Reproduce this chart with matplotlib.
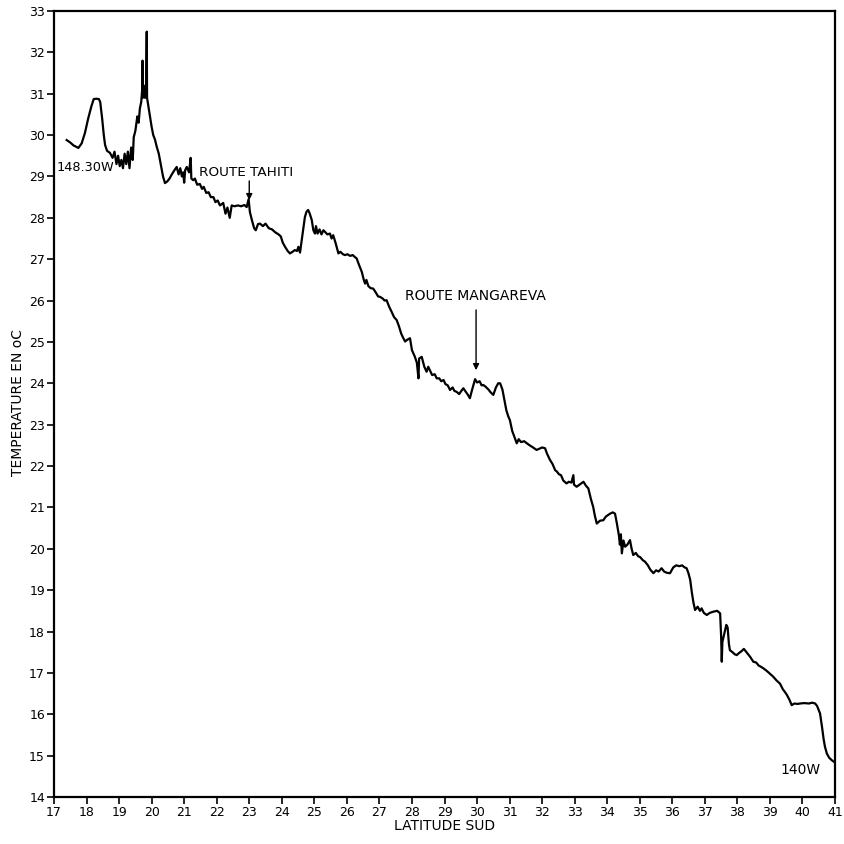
import matplotlib
matplotlib.use("Agg")
import matplotlib.pyplot as plt

# surface temperature along the track, latitude south (deg) vs temperature (deg C)
lat = [17.39, 17.5, 17.6, 17.75, 17.85, 17.95, 18.05, 18.15, 18.22, 18.3, 18.38, 18.42,
       18.48, 18.53, 18.57, 18.63, 18.72, 18.8, 18.86, 18.92, 18.97, 19.02, 19.07, 19.12,
       19.17, 19.22, 19.27, 19.32, 19.37, 19.42, 19.45, 19.5, 19.56, 19.6, 19.64, 19.68,
       19.71, 19.72, 19.73, 19.76, 19.8, 19.83, 19.85, 19.86, 19.9, 19.95, 20.0, 20.05,
       20.1, 20.16, 20.22, 20.28, 20.35, 20.41, 20.48, 20.55, 20.62, 20.7, 20.77, 20.83,
       20.88, 20.93, 20.97, 21.0, 21.03, 21.08, 21.15, 21.2, 21.22, 21.28, 21.33, 21.4,
       21.48, 21.55, 21.6, 21.68, 21.75, 21.82, 21.9, 21.96, 22.03, 22.1, 22.2, 22.27,
       22.33, 22.4, 22.46, 22.55, 22.65, 22.75, 22.85, 22.92, 22.98, 23.02, 23.08, 23.15,
       23.2, 23.27, 23.33, 23.42, 23.5, 23.6, 23.7, 23.8, 23.9, 23.97, 24.03, 24.1,
       24.18, 24.25, 24.33, 24.4, 24.47, 24.51, 24.56, 24.62, 24.67, 24.71, 24.76, 24.81,
       24.86, 24.92, 24.97, 25.02, 25.05, 25.1, 25.16, 25.22, 25.28, 25.33, 25.4, 25.48,
       25.53, 25.58, 25.65, 25.7, 25.74, 25.8, 25.88, 25.94, 26.02, 26.1, 26.18, 26.25,
       26.3, 26.38, 26.46, 26.52, 26.56, 26.6, 26.66, 26.73, 26.81, 26.9, 26.96, 27.02,
       27.1, 27.16, 27.22, 27.3, 27.38, 27.45, 27.53, 27.6, 27.67, 27.73, 27.79, 27.85,
       27.94, 28.0, 28.09, 28.15, 28.2, 28.22, 28.3, 28.38, 28.45, 28.5, 28.56, 28.62,
       28.7, 28.76, 28.84, 28.9, 28.97, 29.03, 29.1, 29.17, 29.25, 29.3, 29.38, 29.45,
       29.52, 29.58, 29.65, 29.72, 29.78, 29.85, 29.94, 30.0, 30.08, 30.14, 30.19, 30.26,
       30.35, 30.42, 30.5, 30.58, 30.65, 30.71, 30.78, 30.84, 30.9, 30.96, 31.01, 31.08,
       31.15, 31.22, 31.28, 31.35, 31.45, 31.53, 31.62, 31.72, 31.83, 31.92, 32.0, 32.09,
       32.15, 32.24, 32.32, 32.4, 32.45, 32.52, 32.58, 32.65, 32.75, 32.82, 32.9, 32.96,
       32.98, 33.06, 33.15, 33.27, 33.35, 33.42, 33.5, 33.57, 33.62, 33.68, 33.78, 33.88,
       33.96, 34.09, 34.17, 34.24, 34.3, 34.36, 34.39, 34.42, 34.45, 34.5, 34.55, 34.62,
       34.7, 34.75, 34.8, 34.88, 34.95, 35.01, 35.1, 35.16, 35.25, 35.32, 35.42, 35.5,
       35.58, 35.67, 35.75, 35.83, 35.93, 36.03, 36.12, 36.22, 36.3, 36.38, 36.44, 36.5,
       36.55, 36.6, 36.65, 36.7, 36.78, 36.85, 36.9, 36.97, 37.06, 37.15, 37.26, 37.38,
       37.47, 37.5, 37.52, 37.54, 37.6, 37.66, 37.7, 37.74, 37.77, 37.85, 37.92, 37.98,
       38.05, 38.12, 38.2, 38.3, 38.4, 38.49, 38.58, 38.65, 38.72, 38.8, 38.9, 39.0,
       39.1, 39.2, 39.31, 39.4, 39.45, 39.52, 39.6, 39.67, 39.75, 39.85, 39.93, 40.05,
       40.2, 40.3, 40.39, 40.45, 40.54, 40.6, 40.65, 40.69, 40.75, 40.82, 40.9, 40.97]
temp = [29.88, 29.82, 29.75, 29.69, 29.8, 30.05, 30.4, 30.7, 30.87, 30.88, 30.87, 30.8,
        30.4, 30.0, 29.76, 29.62, 29.57, 29.45, 29.6, 29.3, 29.5, 29.25, 29.4, 29.2,
        29.55, 29.3, 29.6, 29.2, 29.7, 29.4, 29.95, 30.1, 30.45, 30.3, 30.65, 30.8,
        31.1, 31.8, 30.9, 31.2, 30.9, 31.1, 32.5, 30.9, 30.7, 30.44, 30.2, 30.0,
        29.9, 29.71, 29.55, 29.3, 29.0, 28.84, 28.88, 28.95, 29.05, 29.15, 29.23, 29.05,
        29.2, 29.0, 29.1, 28.85, 29.15, 29.23, 29.1, 29.45, 28.95, 28.91, 28.95, 28.8,
        28.82, 28.7, 28.75, 28.6, 28.62, 28.5, 28.5, 28.38, 28.42, 28.3, 28.36, 28.1,
        28.25, 28.0, 28.3, 28.28, 28.3, 28.28, 28.31, 28.26, 28.45, 28.14, 27.95, 27.75,
        27.7, 27.85, 27.86, 27.8, 27.86, 27.75, 27.72, 27.65, 27.6, 27.55, 27.4, 27.3,
        27.2, 27.14, 27.18, 27.22, 27.2, 27.3, 27.16, 27.5, 27.8, 28.02, 28.15, 28.19,
        28.1, 27.95, 27.7, 27.62, 27.8, 27.62, 27.72, 27.6, 27.7, 27.66, 27.6, 27.62,
        27.5, 27.58, 27.4, 27.25, 27.14, 27.18, 27.12, 27.1, 27.12, 27.08, 27.1, 27.05,
        27.02, 26.85, 26.69, 26.5, 26.41, 26.5, 26.35, 26.3, 26.29, 26.18, 26.1, 26.09,
        26.05, 26.0, 26.01, 25.85, 25.72, 25.6, 25.53, 25.38, 25.2, 25.1, 25.01, 25.05,
        25.09, 24.8, 24.64, 24.5, 24.12, 24.6, 24.64, 24.4, 24.28, 24.4, 24.3, 24.2,
        24.22, 24.12, 24.12, 24.05, 24.08, 23.98, 23.95, 23.84, 23.9, 23.82, 23.79, 23.74,
        23.82, 23.88, 23.8, 23.72, 23.64, 23.85, 24.1, 24.02, 24.05, 23.95, 23.96, 23.92,
        23.85, 23.78, 23.72, 23.9, 24.0, 24.0, 23.85, 23.6, 23.35, 23.2, 23.11, 22.85,
        22.7, 22.55, 22.65, 22.58, 22.6, 22.55, 22.5, 22.45, 22.39, 22.42, 22.45, 22.43,
        22.3, 22.15, 22.05, 21.9, 21.87, 21.8, 21.78, 21.65, 21.58, 21.62, 21.6, 21.78,
        21.55, 21.5, 21.55, 21.62, 21.52, 21.46, 21.2, 21.01, 20.8, 20.61, 20.68, 20.69,
        20.78, 20.85, 20.88, 20.85, 20.6, 20.32, 20.1, 20.35, 19.89, 20.2, 20.05, 20.1,
        20.21, 20.0, 19.85, 19.9, 19.82, 19.8, 19.72, 19.69, 19.6, 19.5, 19.41, 19.48,
        19.45, 19.53, 19.45, 19.42, 19.41, 19.55, 19.6, 19.58, 19.6, 19.55, 19.53, 19.4,
        19.25, 18.95, 18.7, 18.52, 18.6, 18.5, 18.56, 18.45, 18.4, 18.45, 18.48, 18.5,
        18.44, 17.9, 17.27, 17.75, 17.95, 18.16, 18.1, 17.7, 17.55, 17.5, 17.45, 17.43,
        17.48, 17.52, 17.58, 17.48, 17.38, 17.27, 17.25, 17.18, 17.15, 17.11, 17.05, 16.98,
        16.91, 16.82, 16.74, 16.6, 16.55, 16.47, 16.35, 16.22, 16.26, 16.25, 16.26, 16.27,
        16.26, 16.28, 16.26, 16.2, 16.02, 15.7, 15.4, 15.22, 15.05, 14.95, 14.89, 14.85]

x_ticks = list(range(17, 42))
y_ticks = list(range(14, 34))

fig = plt.figure(figsize=(8.44, 8.44), dpi=100)
ax = fig.add_axes([54 / 844, 47 / 844, 781 / 844, 786 / 844])

ax.plot(lat, temp, color='black', linewidth=1.6)

ax.set_xlim(17, 41)
ax.set_ylim(14, 33)
ax.set_xticks(x_ticks)
ax.set_yticks(y_ticks)
ax.set_xticklabels([str(v) for v in x_ticks], fontsize=9)
ax.set_yticklabels([str(v) for v in y_ticks], fontsize=9)
ax.tick_params(direction='out', length=5, width=1.2, pad=1.5, colors='black')
for s in ax.spines.values():
    s.set_linewidth(1.6)

ax.set_xlabel('LATITUDE SUD', fontsize=10, labelpad=0)
fig.text(18 / 844, 1 - 402 / 844, 'TEMPERATURE EN oC', rotation=90,
         ha='center', va='center', fontsize=10)

# longitude notes at both ends of the track
ax.text(17.07, 29.22, '148.30W', ha='left', va='center', fontsize=9.3)
ax.text(39.95, 14.65, '140W', ha='center', va='center', fontsize=10)

# route crossings
ax.text(21.45, 29.1, 'ROUTE TAHITI', ha='left', va='center', fontsize=9.7)
ax.annotate('', xy=(23.0, 28.36), xytext=(23.0, 28.96),
            arrowprops=dict(arrowstyle='-|>', color='black', lw=1, mutation_scale=9))
ax.text(27.78, 26.12, 'ROUTE MANGAREVA', ha='left', va='center', fontsize=10)
ax.annotate('', xy=(29.97, 24.25), xytext=(29.97, 25.84),
            arrowprops=dict(arrowstyle='-|>', color='black', lw=1, mutation_scale=9))

fig.savefig('out.png', dpi=100)
